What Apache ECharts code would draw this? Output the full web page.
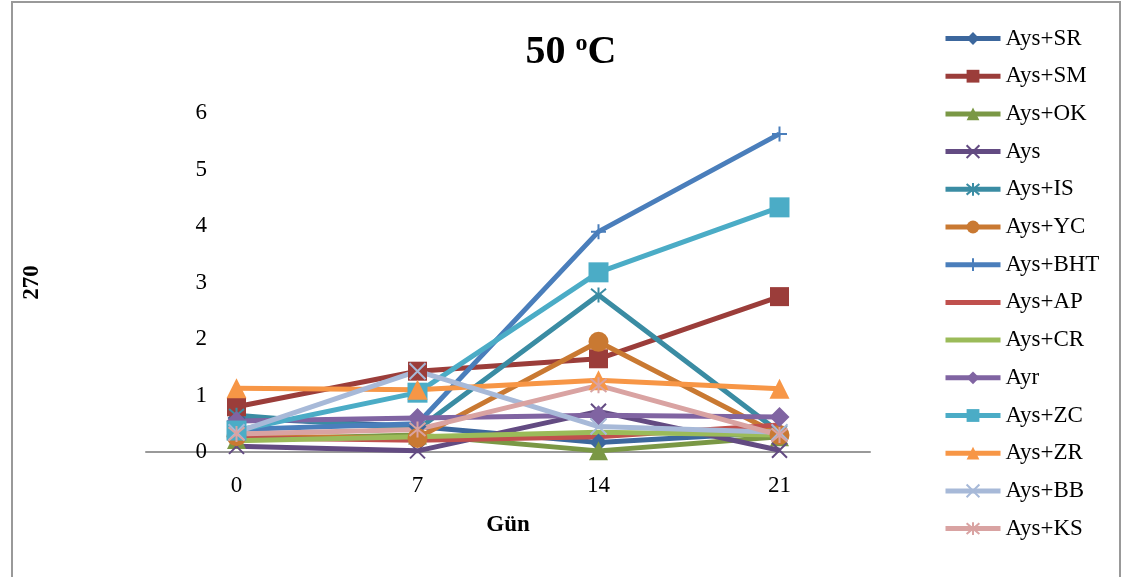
<!DOCTYPE html>
<html>
<head>
<meta charset="utf-8">
<script src="https://cdn.jsdelivr.net/npm/echarts@6/dist/echarts.min.js"></script>
<style>body{margin:0;background:#fff}</style>
</head>
<body>
<div id="main" style="width:1125px;height:577px"></div>
<script type="text/javascript">
// days
var days = ['0', '7', '14', '21'];

var sr  = [0.60, 0.45, 0.17, 0.35];
var sm  = [0.80, 1.43, 1.65, 2.75];
var ok  = [0.22, 0.30, 0.02, 0.27];
var ays = [0.10, 0.02, 0.72, 0.03];
var is_ = [0.65, 0.40, 2.78, 0.35];
var yc  = [0.28, 0.25, 1.95, 0.30];
var bht = [0.40, 0.50, 3.90, 5.63];
var ap  = [0.25, 0.21, 0.27, 0.48];
var cr  = [0.20, 0.27, 0.35, 0.30];
var ayr = [0.55, 0.60, 0.65, 0.62];
var zc  = [0.38, 1.05, 3.18, 4.33];
var zr  = [1.13, 1.10, 1.27, 1.12];
var bb  = [0.35, 1.43, 0.45, 0.35];
var ks  = [0.32, 0.40, 1.18, 0.30];

var crossPath = 'path://M0,0L10,10M10,0L0,10';
var starPath = 'path://M0,0L10,10M10,0L0,10M5,-1L5,11';
var plusPath = 'path://M5,0L5,10M0,5L10,5';
// plain line icon for series without markers
var barIcon = 'path://M0,0L0.01,0L0,0ZM0,5.5L55,5.5L55,10.5L0,10.5ZM0,16L0.01,16L0,16Z';

function mk(name, data, color, symbol, size, stroke) {
    var s = {
        name: name,
        type: 'line',
        data: data,
        symbol: symbol,
        symbolSize: size,
        showSymbol: symbol !== 'none',
        lineStyle: { color: color, width: 5 },
        itemStyle: { color: color },
        emphasis: { disabled: true }
    };
    if (stroke) {
        s.itemStyle.borderColor = color;
        s.itemStyle.borderWidth = 2;
    }
    return s;
}

var names = ['Ays+SR', 'Ays+SM', 'Ays+OK', 'Ays', 'Ays+IS', 'Ays+YC', 'Ays+BHT',
             'Ays+AP', 'Ays+CR', 'Ayr', 'Ays+ZC', 'Ays+ZR', 'Ays+BB', 'Ays+KS'];
var legendData = names.map(function (n) {
    if (n === 'Ays+AP' || n === 'Ays+CR') return { name: n, icon: barIcon };
    return { name: n };
});

var myChart = echarts.init(document.getElementById('main'));
var option = {
    animation: false,
    backgroundColor: '#fff',
    textStyle: { fontFamily: 'Liberation Serif' },
    title: {
        text: '50 {sup|o}C',
        left: 566,
        textAlign: 'center',
        top: 27,
        textStyle: {
            fontFamily: 'Liberation Serif',
            fontSize: 40,
            fontWeight: 'bold',
            color: '#000',
            rich: {
                sup: { fontFamily: 'Liberation Serif', fontSize: 24, fontWeight: 'bold', verticalAlign: 'top', padding: [0, 0, 17, 0] }
            }
        }
    },
    graphic: [{
        type: 'rect',
        shape: { x: 12, y: 2, width: 1108, height: 600 },
        style: { fill: 'none', stroke: '#999', lineWidth: 2 }
    }],
    legend: {
        data: legendData,
        orient: 'vertical',
        left: 938,
        top: 22,
        itemWidth: 55,
        itemHeight: 16,
        itemGap: 14.7,
        lineStyle: { width: 5 },
        textStyle: { fontFamily: 'Liberation Serif', fontSize: 23, color: '#000' }
    },
    grid: { left: 146, right: 255, top: 113, bottom: 125 },
    xAxis: {
        type: 'category',
        data: days,
        name: 'Gün',
        nameLocation: 'middle',
        nameGap: 62,
        nameTextStyle: { fontFamily: 'Liberation Serif', fontSize: 23, fontWeight: 'bold', color: '#000' },
        axisLine: { lineStyle: { color: '#999', width: 2 } },
        axisTick: { show: false },
        axisLabel: { fontFamily: 'Liberation Serif', fontSize: 23, color: '#000', margin: 22 }
    },
    yAxis: {
        type: 'value',
        min: 0,
        max: 6,
        interval: 1,
        name: '270',
        nameLocation: 'middle',
        nameRotate: 90,
        nameGap: 102,
        nameTextStyle: { fontFamily: 'Liberation Serif', fontSize: 23, fontWeight: 'bold', color: '#000' },
        axisLine: { show: false },
        axisTick: { show: false },
        splitLine: { show: false },
        axisLabel: { fontFamily: 'Liberation Serif', fontSize: 23, color: '#000', margin: -61 }
    },
    series: [
        mk('Ays+SR', sr, '#3C679D', 'diamond', 18),
        mk('Ays+SM', sm, '#9B3D3A', 'rect', 19),
        mk('Ays+OK', ok, '#7A9845', 'triangle', 19),
        mk('Ays', ays, '#634B82', crossPath, 15, true),
        mk('Ays+IS', is_, '#3A8CA3', starPath, 15, true),
        mk('Ays+YC', yc, '#C97932', 'circle', 20),
        mk('Ays+BHT', bht, '#4A7EBB', plusPath, 15, true),
        mk('Ays+AP', ap, '#C0504D', 'none', 0),
        mk('Ays+CR', cr, '#9BBB59', 'none', 0),
        mk('Ayr', ayr, '#8064A2', 'diamond', 20),
        mk('Ays+ZC', zc, '#4BACC6', 'rect', 20),
        mk('Ays+ZR', zr, '#F79646', 'triangle', 20),
        mk('Ays+BB', bb, '#A7B9D8', crossPath, 16, true),
        mk('Ays+KS', ks, '#D9A3A2', starPath, 16, true)
    ]
};

if (option && typeof option === "object") {
    myChart.setOption(option, true);
}
</script>
</body>
</html>
